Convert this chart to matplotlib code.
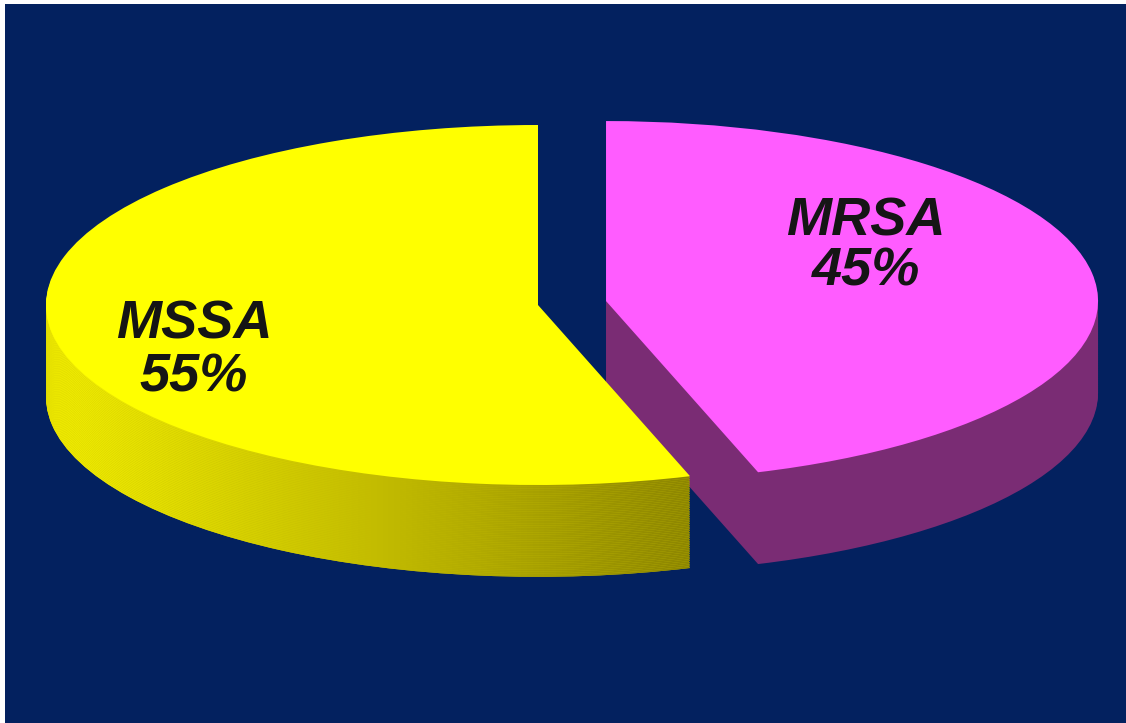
import matplotlib
matplotlib.use('Agg')
import matplotlib.pyplot as plt
import numpy as np
from matplotlib.colors import LinearSegmentedColormap

# data
labels = ['MSSA', 'MRSA']
shares = [55, 45]
explode = [0, 0.14]

top_colors = ['#ffff00', '#ff5cff']
side_colors = ['#c4bc00', '#7a2c74']
navy = '#03215f'

W, H = 1126, 723
fig = plt.figure(figsize=(W / 100, H / 100), dpi=100)
fig.patch.set_facecolor('white')
ax = fig.add_axes([5 / W, 0, 1121 / W, 719 / H])

# yellow side shading, bright on the left, darker towards the cut
side_cmap = LinearSegmentedColormap.from_list('side', ['#f4f000', '#c4bd00', '#8c8500'])
grad = np.linspace(0, 1, 256).reshape(1, -1)

# side walls: stack the pie downwards
depth = 0.51
n_layers = 52
for k in range(n_layers, 0, -1):
    dy = depth * k / n_layers
    wedges, _ = ax.pie(shares, explode=explode, startangle=90, colors=side_colors,
                       center=(0, -dy), radius=1, wedgeprops=dict(linewidth=0))
    img = ax.imshow(grad, extent=(-1.0, 0.32, -1.6, 0.6), cmap=side_cmap,
                    aspect='auto', zorder=1)
    img.set_clip_path(wedges[0])

# top faces
ax.pie(shares, explode=explode, startangle=90, colors=top_colors,
       center=(0, 0), radius=1, wedgeprops=dict(linewidth=0))

# squash the circle into a tilted ellipse
ax.set_xlim(-1.0833, 1.1951)
ax.set_ylim(-2.3222, 1.6722)
ax.set_aspect('auto')
ax.set_frame_on(True)
ax.set_facecolor(navy)
for s in ax.spines.values():
    s.set_visible(False)
ax.set_xticks([])
ax.set_yticks([])

font = dict(family=['Liberation Sans', 'DejaVu Sans'], weight='bold', style='italic',
            size=39, color='#151515', ha='center', va='center')
fig.text(194 / W, 1 - 325 / H, labels[0], **font)
fig.text(194 / W, 1 - 378 / H, f'{shares[0]}%', **font)
fig.text(866 / W, 1 - 221 / H, labels[1], **font)
fig.text(866 / W, 1 - 272 / H, f'{shares[1]}%', **font)

fig.savefig('out.png', dpi=100, facecolor=fig.get_facecolor())
